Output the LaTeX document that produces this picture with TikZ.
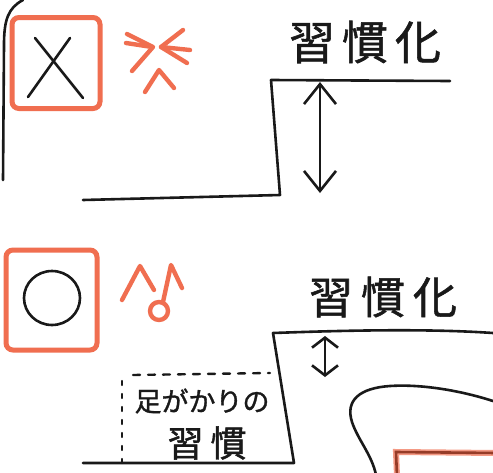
\documentclass[tikz,border=0pt]{standalone}
\usepackage{fontspec}
\newfontfamily\jp[FakeBold=1.2]{Noto Sans CJK JP}
\usetikzlibrary{arrows.meta}
\definecolor{pen}{RGB}{25,25,25}
\definecolor{marker}{RGB}{240,110,80}
\definecolor{darkmarker}{RGB}{150,60,40}
\begin{document}
\begin{tikzpicture}[x=1pt,y=-1pt,
  ink/.style={draw=pen,line width=2.6pt,line cap=round,line join=round},
  redbox/.style={draw=marker,line width=5pt,rounded corners=7pt,inner sep=0pt},
  redthin/.style={draw=marker,line width=4.4pt,line cap=round,line join=round},
  lbl/.style={text=pen,inner sep=0pt},
  bigbarb/.style={ink,{Straight Barb[length=20pt,width=32pt]}-{Straight Barb[length=20pt,width=32pt]}},
  smallbarb/.style={ink,{Straight Barb[length=10pt,width=26pt]}-{Straight Barb[length=10pt,width=26pt]}},
]
\fill[white] (0,0) rectangle (493,472);
\useasboundingbox (0,0) rectangle (493,472);

% left edge curve
\draw[ink] (23,0) .. controls (8,8) and (4,20) .. (4,45) -- (3,180);

% X box
\node[redbox,minimum width=88pt,minimum height=91pt] (xbox) at (56,63) {};
\draw[ink] (35,38) -- (83,98);
\draw[ink] (70,38) -- (28,97);

% frustrated face
\draw[redthin] (127,34) -- (153,47) -- (132,71);
\draw[redthin] (126,43) -- (152,47);
\draw[redthin] (183,30) -- (161,47) -- (187,63);
\draw[redthin] (161,47) -- (190,50);
\draw[redthin] (145,92) -- (159,70) -- (174,88);

% top label
\node[lbl,font=\jp\fontsize{46pt}{46pt}\selectfont] (habit1) at (365,42) {習\hspace{7pt}慣\hspace{7pt}化};

% top step
\coordinate (s1a) at (83,200);
\coordinate (s1b) at (280,195);
\coordinate (s1c) at (271,80);
\coordinate (s1d) at (450,81);
\draw[ink] (s1a) -- (s1b) -- (s1c) -- (s1d);
\coordinate (a1t) at (320,82);
\coordinate (a1b) at (320,193);
\draw[bigbarb] (a1t) -- (a1b);

% O box
\node[redbox,minimum width=91pt,minimum height=100pt] (obox) at (51.5,300) {};
\draw[ink] (52,298) ellipse [x radius=28, y radius=27];

% happy face
\draw[redthin] (122,300) -- (140,266) -- (154,290);
\draw[redthin] (182,288) -- (171,265) -- (163,302);
\draw[redthin] (159,311) circle [radius=9];

% middle label
\node[lbl,font=\jp\fontsize{44pt}{44pt}\selectfont] (habit2) at (383,297) {習\hspace{8pt}慣\hspace{8pt}化};

% lower step
\coordinate (s2a) at (83,463);
\coordinate (s2b) at (294,463);
\coordinate (s2c) at (273,333);
\coordinate (s2d) at (493,333);
\draw[ink] (s2a) -- (s2b) -- (s2c) .. controls (330,331) and (420,328) .. (s2d);
\coordinate (a2t) at (325,336);
\coordinate (a2b) at (325,377);
\draw[smallbarb] (a2t) -- (a2b);

% dotted box
\draw[ink,line width=2.4pt,dash pattern=on 4pt off 9pt] (122,463) -- (122,376);
\draw[ink,line width=2.4pt,dash pattern=on 7pt off 8pt] (133,375) -- (270,373);
\node[lbl,font=\jp\fontsize{27pt}{27pt}\selectfont] (foot) at (202,401) {足がかりの};
\node[lbl,font=\jp\fontsize{36pt}{36pt}\selectfont] (habit3) at (207,443) {習\hspace{7pt}慣};

% blob
\draw[ink] (496,402) .. controls (460,390) and (420,384) .. (390,386)
  .. controls (360,388) and (345,400) .. (352,422)
  .. controls (358,440) and (372,455) .. (376,475);

% red rectangle corner
\draw[draw=marker!70,line width=6pt] (397,476) -- (396,452) -- (497,453);
\draw[draw=darkmarker,line width=2.6pt] (397,476) -- (396,452) -- (497,453);
\end{tikzpicture}
\end{document}
